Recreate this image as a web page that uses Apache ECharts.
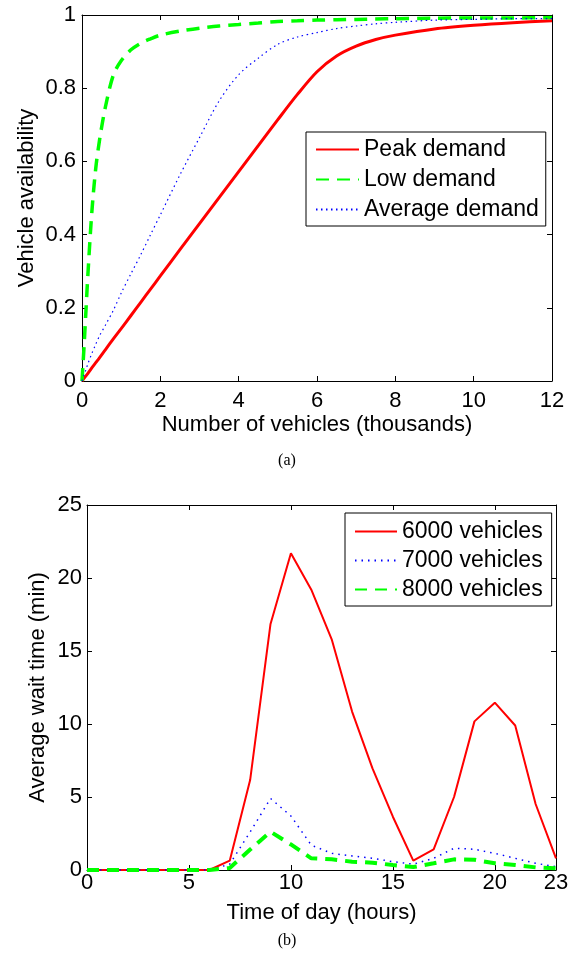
<!DOCTYPE html>
<html>
<head>
<meta charset="utf-8">
<script src="https://cdn.jsdelivr.net/npm/echarts@6/dist/echarts.min.js"></script>
<style>
html,body{margin:0;padding:0;background:#fff;}
#chart{width:574px;height:962px;}
</style>
</head>
<body>
<div id="chart"></div>
<script>
// ---- Chart (a): vehicle availability ----
const vehiclesK = [0,0.05,0.1,0.15,0.25,0.35,0.45,0.6,0.8,1,1.25,1.5,1.75,2,2.5,3,3.5,4,4.5,5,5.5,6,6.5,7,7.5,8,9,10,11,12];
const peakDemand = [0,0.007,0.014,0.021,0.036,0.05,0.064,0.086,0.115,0.143,0.179,0.215,0.251,0.287,0.359,0.43,0.501,0.572,0.643,0.714,0.783,0.845,0.888,0.915,0.933,0.945,0.962,0.972,0.979,0.984];
const lowDemand = [0,0.09,0.19,0.29,0.46,0.58,0.66,0.75,0.836,0.875,0.905,0.923,0.935,0.945,0.956,0.964,0.97,0.974,0.978,0.982,0.984,0.986,0.987,0.988,0.989,0.99,0.991,0.992,0.992,0.993];
const avgDemand = [0,0.016,0.031,0.047,0.075,0.1,0.124,0.153,0.193,0.24,0.293,0.345,0.4,0.454,0.563,0.665,0.765,0.837,0.882,0.92,0.94,0.952,0.963,0.97,0.976,0.98,0.986,0.988,0.99,0.99];
const namesA = ['Peak demand','Low demand','Average demand'];

// ---- Chart (b): average wait time ----
const hours = [0,1,2,3,4,5,6,7,8,9,10,11,12,13,14,15,16,17,18,19,20,21,22,23];
const wait6000 = [0,0,0,0,0,0,0,0.64,6.16,16.85,21.7,19.2,15.8,10.85,6.96,3.65,0.64,1.42,5.0,10.18,11.46,9.9,4.52,0.8];
const wait7000 = [0,0,0,0,0,0,0,0.4,2.6,4.9,3.7,1.7,1.14,0.96,0.8,0.57,0.4,0.8,1.49,1.42,1.14,0.8,0.46,0.23];
const wait8000 = [0,0,0,0,0,0,0,0.14,1.4,2.62,1.75,0.8,0.73,0.57,0.5,0.34,0.2,0.46,0.73,0.7,0.46,0.34,0.18,0.11];
const namesB = ['6000 vehicles','7000 vehicles','8000 vehicles'];
const hourTicks = [0,5,10,15,20,23];

const FONT = 'Liberation Sans, Arial, Helvetica, sans-serif';
const pair = (xs, ys) => xs.map((x, i) => [x, ys[i]]);

const axisLineStyle = { show: true, onZero: false, lineStyle: { color: '#000', width: 1 } };
const tickStyle = { show: true, inside: true, length: 5, lineStyle: { color: '#000', width: 1 } };

function mainX(grid, min, max, interval, name, nameGap, labelMargin, custom) {
  const ax = {
    type: 'value', gridIndex: grid, position: 'bottom', min: min, max: max,
    name: name, nameLocation: 'middle', nameGap: nameGap, nameMoveOverlap: false,
    nameTextStyle: { fontFamily: FONT, fontSize: 22, color: '#000' },
    axisLine: axisLineStyle, axisTick: Object.assign({}, tickStyle),
    axisLabel: { fontFamily: FONT, fontSize: 22, color: '#000', margin: labelMargin, showMinLabel: true, showMaxLabel: true },
    splitLine: { show: false }
  };
  if (custom) {
    ax.axisLabel.customValues = custom;
    ax.axisTick.customValues = custom;
  } else {
    ax.interval = interval;
  }
  return ax;
}
function topX(grid, min, max, interval, custom) {
  const ax = {
    type: 'value', gridIndex: grid, position: 'top', min: min, max: max,
    axisLine: axisLineStyle, axisTick: Object.assign({}, tickStyle),
    axisLabel: { show: false }, splitLine: { show: false }
  };
  if (custom) { ax.axisTick.customValues = custom; ax.axisLabel.customValues = custom; }
  else ax.interval = interval;
  return ax;
}
function mainY(grid, min, max, interval, name, nameGap, labelMargin) {
  return {
    type: 'value', gridIndex: grid, position: 'left', min: min, max: max, interval: interval,
    name: name, nameLocation: 'middle', nameGap: nameGap, nameMoveOverlap: false,
    nameTextStyle: { fontFamily: FONT, fontSize: 22, color: '#000' },
    axisLine: axisLineStyle, axisTick: tickStyle,
    axisLabel: { fontFamily: FONT, fontSize: 22, color: '#000', margin: labelMargin, showMinLabel: true, showMaxLabel: true },
    splitLine: { show: false }
  };
}
function rightY(grid, min, max, interval) {
  return {
    type: 'value', gridIndex: grid, position: 'right', min: min, max: max, interval: interval,
    axisLine: axisLineStyle, axisTick: tickStyle,
    axisLabel: { show: false }, splitLine: { show: false }
  };
}

const RED = '#ff0000', GREEN = '#00ff00', BLUE = '#0000ff';

const legendBase = {
  orient: 'vertical', itemHeight: 14,
  borderColor: '#000', borderWidth: 1, backgroundColor: '#fff',
  itemStyle: { opacity: 0 },
  textStyle: { fontFamily: FONT, fontSize: 23, color: '#000' }
};

const option = {
  animation: false,
  backgroundColor: '#fff',
  textStyle: { fontFamily: FONT },
  grid: [
    { left: 82, top: 15, width: 470, height: 366 },
    { left: 87, top: 505, width: 469, height: 365 }
  ],
  xAxis: [
    mainX(0, 0, 12, 2, 'Number of vehicles (thousands)', 33, 9),
    topX(0, 0, 12, 2),
    mainX(1, 0, 23, 5, 'Time of day (hours)', 32, 2, hourTicks),
    topX(1, 0, 23, 5, hourTicks.slice(0, 5))
  ],
  yAxis: [
    mainY(0, 0, 1, 0.2, 'Vehicle availability', 44, 6),
    rightY(0, 0, 1, 0.2),
    mainY(1, 0, 25, 5, 'Average wait time (min)', 38, 5),
    rightY(1, 0, 25, 5)
  ],
  legend: [
    Object.assign({}, legendBase, {
      data: namesA, left: 306, top: 132,
      padding: [6, 7, 5, 9], itemGap: 7, itemWidth: 43
    }),
    Object.assign({}, legendBase, {
      data: namesB, left: 345, top: 513,
      padding: [7, 9, 5, 9], itemGap: 6, itemWidth: 42
    })
  ],
  series: [
    { name: namesA[0], type: 'line', xAxisIndex: 0, yAxisIndex: 0, symbol: 'none', smooth: 0.3,
      data: pair(vehiclesK, peakDemand), lineStyle: { color: RED, width: 3, type: 'solid' }, itemStyle: { color: RED } },
    { name: namesA[1], type: 'line', xAxisIndex: 0, yAxisIndex: 0, symbol: 'none', smooth: 0.3,
      data: pair(vehiclesK, lowDemand), lineStyle: { color: GREEN, width: 3.5, type: [13, 8] }, itemStyle: { color: GREEN } },
    { name: namesA[2], type: 'line', xAxisIndex: 0, yAxisIndex: 0, symbol: 'none', smooth: 0.3,
      data: pair(vehiclesK, avgDemand), lineStyle: { color: BLUE, width: 1.2, type: [1.5, 3.5] }, itemStyle: { color: BLUE } },
    { name: namesB[0], type: 'line', xAxisIndex: 2, yAxisIndex: 2, symbol: 'none',
      data: pair(hours, wait6000), lineStyle: { color: RED, width: 2, type: 'solid' }, itemStyle: { color: RED } },
    { name: namesB[1], type: 'line', xAxisIndex: 2, yAxisIndex: 2, symbol: 'none',
      data: pair(hours, wait7000), lineStyle: { color: BLUE, width: 1.5, type: [1.5, 5] }, itemStyle: { color: BLUE } },
    { name: namesB[2], type: 'line', xAxisIndex: 2, yAxisIndex: 2, symbol: 'none',
      data: pair(hours, wait8000), lineStyle: { color: GREEN, width: 4, type: [12, 8] }, itemStyle: { color: GREEN } }
  ],
  graphic: [
    { type: 'text', left: 'center', top: 453, style: { text: '(a)', font: '16px "Liberation Serif", "Times New Roman", serif', fill: '#000' } },
    { type: 'text', left: 'center', top: 933, style: { text: '(b)', font: '16px "Liberation Serif", "Times New Roman", serif', fill: '#000' } }
  ]
};

const chart = echarts.init(document.getElementById('chart'), null, { renderer: 'canvas' });
chart.setOption(option);
</script>
</body>
</html>
